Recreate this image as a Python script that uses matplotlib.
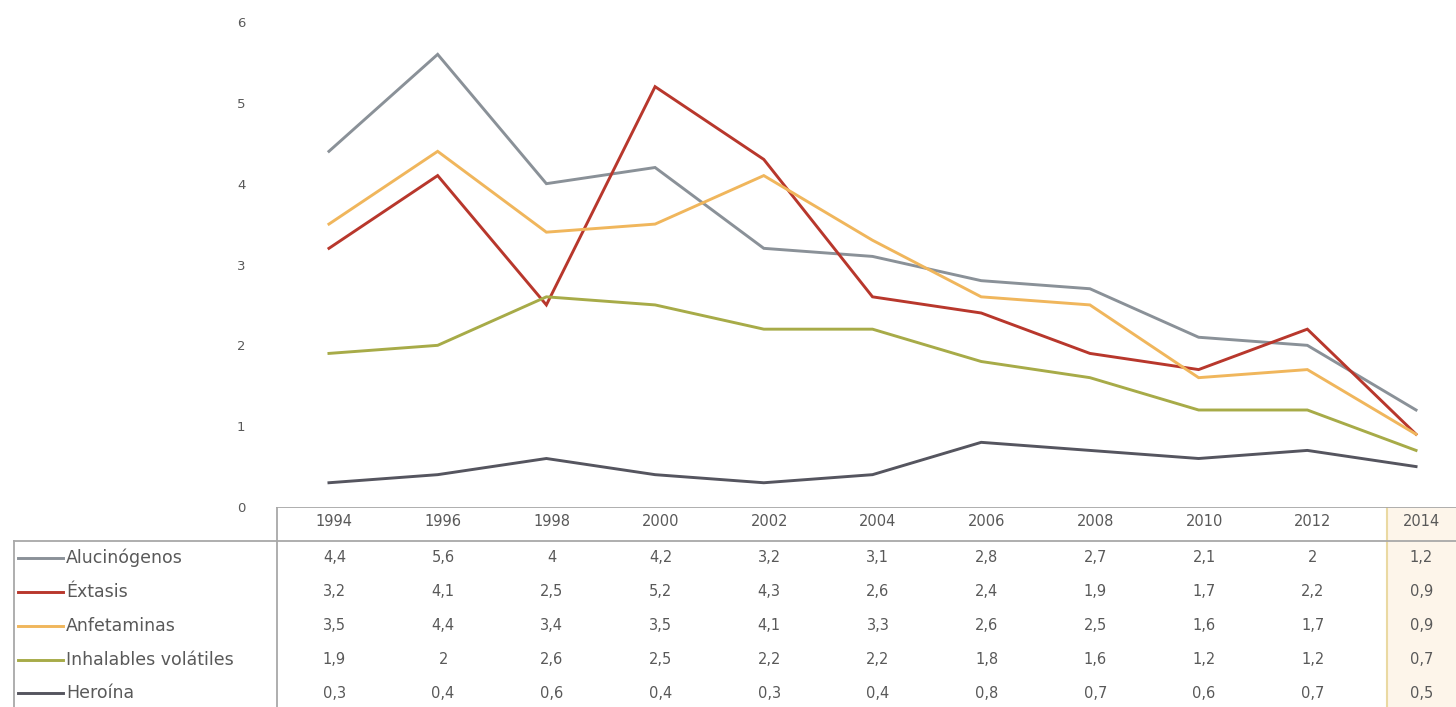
import numpy as np
import matplotlib.pyplot as plt
from matplotlib.lines import Line2D
from matplotlib.patches import Rectangle
import matplotlib.transforms as mtransforms

plt.rcParams['font.family'] = ['DejaVu Sans']

years = [1994, 1996, 1998, 2000, 2002, 2004, 2006, 2008, 2010, 2012, 2014]
series_names = ["Alucinógenos", "Éxtasis", "Anfetaminas", "Inhalables volátiles", "Heroína"]
alucinogenos = [4.4, 5.6, 4, 4.2, 3.2, 3.1, 2.8, 2.7, 2.1, 2, 1.2]
extasis = [3.2, 4.1, 2.5, 5.2, 4.3, 2.6, 2.4, 1.9, 1.7, 2.2, 0.9]
anfetaminas = [3.5, 4.4, 3.4, 3.5, 4.1, 3.3, 2.6, 2.5, 1.6, 1.7, 0.9]
inhalables = [1.9, 2, 2.6, 2.5, 2.2, 2.2, 1.8, 1.6, 1.2, 1.2, 0.7]
heroina = [0.3, 0.4, 0.6, 0.4, 0.3, 0.4, 0.8, 0.7, 0.6, 0.7, 0.5]
series_values = [alucinogenos, extasis, anfetaminas, inhalables, heroina]
colors = ["#8a9198", "#b8372c", "#f0b65c", "#a7ab48", "#55555f"]
y_ticks = [0, 1, 2, 3, 4, 5, 6]

W, H = 1456, 707
txt_color = "#595959"
grid_color = "#a8a8a8"

fig = plt.figure(figsize=(W / 100, H / 100), dpi=100)

# main plot area: x from 1993 to 2015, y from 0 to 6
ax = fig.add_axes([274.6 / W, (H - 507) / H, (1470.4 - 274.6) / W, 485 / H])
ax.set_xlim(1993, 2015)
ax.set_ylim(0, 6)
for s in ax.spines.values():
    s.set_visible(False)
ax.set_xticks([])
ax.set_yticks(y_ticks)
ax.set_yticklabels([str(t) for t in y_ticks])
ax.tick_params(axis='y', length=0, pad=21, labelsize=9.5, labelcolor=txt_color)

for vals, c in zip(series_values, colors):
    ax.plot(years, vals, color=c, lw=2.1, solid_joinstyle='miter')

# overlay in pixel coordinates for the data table
tab = fig.add_axes([0, 0, 1, 1], zorder=-1)
tab.set_xlim(0, W)
tab.set_ylim(H, 0)
tab.axis('off')

# highlighted last column
tab.add_patch(Rectangle((1387, 500), 120, 220, facecolor="#fdf5ea",
                        edgecolor="#ead9a2", lw=1.5))

tab.add_line(Line2D([277, W], [507, 507], color=grid_color, lw=1.3))
tab.add_line(Line2D([14, W], [541, 541], color=grid_color, lw=1.3))
tab.add_line(Line2D([277, 277], [507, H], color=grid_color, lw=1.3))
tab.add_line(Line2D([14, 14], [541, H], color=grid_color, lw=1.3))

trans = mtransforms.blended_transform_factory(ax.transData, tab.transData)
header_y = 522
row_y = [558, 592, 626, 660, 693]

for yr in years:
    ax.text(yr + 0.1, header_y, str(yr), transform=trans, ha='center', va='center',
            fontsize=10.5, color=txt_color, clip_on=False)

for name, vals, c, ry in zip(series_names, series_values, colors, row_y):
    tab.add_line(Line2D([18, 63], [ry, ry], color=c, lw=2.1))
    tab.text(66, ry, name, ha='left', va='center', fontsize=12.5, color=txt_color)
    for yr, v in zip(years, vals):
        label = ("%g" % v).replace('.', ',')
        ax.text(yr + 0.1, ry, label, transform=trans, ha='center', va='center',
                fontsize=10.5, color=txt_color, clip_on=False)

fig.savefig("out.png", dpi=100)
